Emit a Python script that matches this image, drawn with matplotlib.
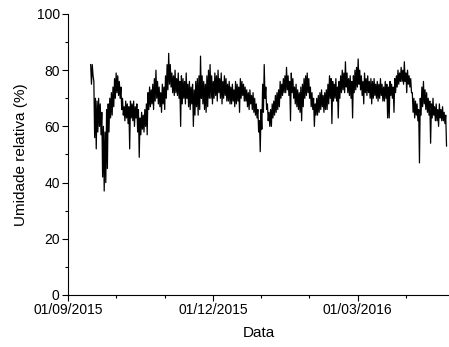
import numpy as np
import matplotlib
matplotlib.use("Agg")
import matplotlib.pyplot as plt
import matplotlib.dates as mdates
from matplotlib.ticker import FixedLocator, MultipleLocator

plt.rcParams['font.family'] = ['Liberation Sans', 'DejaVu Sans']

# Daily relative humidity extremes (%), one pair per day starting 15/09/2015
first_day = np.datetime64('2015-09-15')
rh_high = [
    82, 82, 76, 70, 69, 70, 68, 65, 60, 58,
    66, 68, 70, 72, 74, 77, 79, 78, 76, 74,
    70, 67, 69, 68, 67, 69, 68, 69, 67, 68,
    66, 63, 65, 64, 66, 68, 72, 74, 73, 75,
    77, 80, 76, 74, 72, 75, 74, 78, 82, 86,
    82, 79, 78, 80, 77, 79, 76, 78, 77, 76,
    79, 75, 76, 74, 75, 73, 76, 77, 78, 85,
    78, 76, 75, 78, 80, 82, 78, 76, 79, 78,
    80, 77, 79, 76, 78, 77, 75, 76, 74, 75,
    73, 76, 75, 74, 77, 76, 75, 74, 73, 72,
    73, 71, 72, 70, 68, 66, 62, 66, 75, 82,
    74, 68, 65, 66, 68, 69, 71, 72, 73, 76,
    75, 77, 78, 81, 78, 76, 79, 77, 74, 75,
    73, 72, 74, 75, 77, 78, 79, 77, 74, 72,
    70, 68, 70, 71, 72, 73, 71, 72, 73, 75,
    78, 77, 76, 75, 77, 74, 76, 78, 80, 79,
    83, 79, 77, 78, 76, 78, 80, 81, 84, 80,
    78, 76, 79, 77, 78, 76, 77, 76, 77, 75,
    76, 75, 77, 75, 74, 76, 75, 74, 76, 75,
    74, 77, 78, 80, 79, 81, 80, 83, 79, 80,
    78, 77, 72, 70, 69, 68, 66, 70, 74, 76,
    73, 72, 70, 69, 68, 70, 67, 68, 66, 68,
    66, 67, 65, 64,
]
rh_low = [
    75, 78, 56, 52, 58, 60, 57, 42, 37, 40,
    45, 58, 63, 64, 67, 70, 72, 71, 70, 66,
    64, 62, 63, 61, 52, 63, 62, 60, 63, 58,
    49, 57, 59, 58, 60, 57, 66, 67, 68, 66,
    69, 70, 68, 67, 65, 68, 66, 70, 73, 75,
    74, 72, 71, 72, 71, 70, 60, 68, 70, 68,
    70, 67, 66, 68, 60, 64, 67, 64, 66, 70,
    68, 66, 65, 67, 70, 70, 68, 70, 71, 69,
    72, 70, 68, 70, 71, 69, 69, 68, 68, 69,
    67, 68, 69, 65, 70, 71, 69, 69, 67, 66,
    68, 66, 65, 64, 63, 58, 51, 59, 65, 70,
    66, 62, 60, 60, 63, 64, 65, 66, 67, 70,
    71, 72, 72, 73, 71, 62, 72, 70, 68, 67,
    66, 65, 62, 67, 70, 71, 72, 70, 67, 66,
    60, 64, 64, 65, 66, 67, 65, 66, 66, 68,
    70, 61, 69, 70, 69, 63, 70, 72, 73, 72,
    74, 72, 71, 70, 63, 72, 73, 74, 75, 73,
    71, 68, 72, 71, 72, 70, 68, 70, 71, 70,
    69, 70, 71, 69, 69, 70, 63, 63, 71, 70,
    65, 72, 74, 75, 76, 76, 75, 76, 72, 75,
    74, 72, 65, 63, 64, 62, 47, 64, 67, 68,
    66, 65, 64, 54, 63, 64, 62, 62, 60, 63,
    62, 62, 61, 53,
]
tick_dates = ['2015-09-01', '2015-12-01', '2016-03-01']
tick_labels = ['01/09/2015', '01/12/2015', '01/03/2016']

# morning maximum and afternoon minimum for each day
days = first_day + np.arange(len(rh_high)).astype('timedelta64[D]')
t = np.column_stack([days + np.timedelta64(6, 'h'),
                     days + np.timedelta64(18, 'h')]).ravel()
rh = np.column_stack([rh_high, rh_low]).ravel()

fig = plt.figure(figsize=(4.49, 3.47), dpi=100)
ax = fig.add_axes([0.1514, 0.1499, 0.8486, 0.8098])

ax.plot(t, rh, color='black', lw=0.9)

major = [mdates.date2num(np.datetime64(d)) for d in tick_dates]
step = (major[1] - major[0]) / 3
minor = [major[0] + k * step for k in range(9) if k % 3]
ax.xaxis.set_major_locator(FixedLocator(major))
ax.xaxis.set_minor_locator(FixedLocator(minor))
ax.set_xticklabels(tick_labels)
ax.set_xlim(major[0], major[0] + 239.3)

ax.set_ylim(0, 100)
ax.yaxis.set_major_locator(MultipleLocator(20))
ax.yaxis.set_minor_locator(MultipleLocator(10))

for side in ('top', 'right'):
    ax.spines[side].set_visible(False)
for side in ('left', 'bottom'):
    ax.spines[side].set_linewidth(0.8)
ax.tick_params(which='major', direction='out', length=4, width=0.8,
               labelsize=10, pad=2)
ax.tick_params(which='minor', direction='out', length=2.5, width=0.8)

ax.set_xlabel('Data', fontsize=11, labelpad=6)
ax.set_ylabel('Umidade relativa (%)', fontsize=11, labelpad=6)

fig.savefig('out.png', dpi=100)
